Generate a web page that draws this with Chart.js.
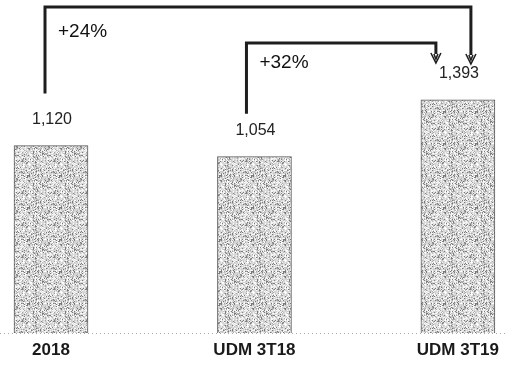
<!DOCTYPE html>
<html lang="es">
<head>
    <meta charset="UTF-8">
    <title>UDM 3T19</title>
    <style>
        html, body { margin: 0; padding: 0; background: #fff; }
        .wrap { width: 506px; height: 366px; position: relative; }
    </style>
    <script src="https://cdn.jsdelivr.net/npm/chart.js"></script>
</head>
<body>
    <div class="wrap"><canvas id="chart" width="506" height="366"></canvas></div>

    <script>
        // data
        const categories = ['2018', 'UDM 3T18', 'UDM 3T19'];
        const values = [1120, 1054, 1393];
        const valueLabels = ['1,120', '1,054', '1,393'];
        const growthLabels = ['+24%', '+32%'];

        // grainy grey fill like the scanned bars
        function makeTexture() {
            const c = document.createElement('canvas');
            c.width = 32; c.height = 32;
            const g = c.getContext('2d');
            g.fillStyle = '#d6d6d6';
            g.fillRect(0, 0, 32, 32);
            const shades = ['#f4f4f4', '#a8a8a8', '#7a7a7a', '#c2c2c2', '#ffffff', '#eaeaea'];
            for (let y = 0; y < 32; y++) {
                for (let x = 0; x < 32; x++) {
                    const h = ((x * 374761393 + y * 668265263) ^ (x * y * 1274126177)) >>> 0;
                    const k = (h >>> 7) % 10;
                    if (k < shades.length) {
                        g.fillStyle = shades[k];
                        g.fillRect(x, y, 1, 1);
                    }
                }
            }
            return g.createPattern(c, 'repeat');
        }

        const annotations = {
            id: 'annotations',
            afterDatasetsDraw(chart) {
                const ctx = chart.ctx;
                const bars = chart.getDatasetMeta(0).data;
                const y0 = chart.scales.y.getPixelForValue(0);

                ctx.save();
                // dotted baseline across the page
                ctx.strokeStyle = '#a8a8a8';
                ctx.lineWidth = 1;
                ctx.setLineDash([1, 3]);
                ctx.beginPath();
                ctx.moveTo(0, y0 + 0.5);
                ctx.lineTo(chart.width, y0 + 0.5);
                ctx.stroke();
                ctx.setLineDash([]);

                // value labels
                ctx.fillStyle = '#222';
                ctx.font = '16px "Liberation Sans", Arial, sans-serif';
                ctx.textAlign = 'center';
                ctx.textBaseline = 'middle';
                bars.forEach((b, i) => ctx.fillText(valueLabels[i], b.x + 1, b.y - 26));

                // bracket arrows
                const b1 = bars[0], b2 = bars[1], b3 = bars[2];
                function bracket(x1, yStart, yTop, x2, yTip) {
                    ctx.strokeStyle = '#1e1e1e';
                    ctx.lineWidth = 3;
                    ctx.lineJoin = 'miter';
                    ctx.beginPath();
                    ctx.moveTo(x1, yStart);
                    ctx.lineTo(x1, yTop);
                    ctx.lineTo(x2, yTop);
                    ctx.lineTo(x2, yTip - 9);
                    ctx.stroke();
                    // open arrow head
                    ctx.lineWidth = 1.6;
                    ctx.beginPath();
                    ctx.moveTo(x2 - 5, yTip - 10);
                    ctx.lineTo(x2, yTip);
                    ctx.lineTo(x2 + 5, yTip - 10);
                    ctx.stroke();
                    ctx.beginPath();
                    ctx.moveTo(x2 - 2, yTip - 9);
                    ctx.lineTo(x2, yTip - 4);
                    ctx.lineTo(x2 + 2, yTip - 9);
                    ctx.stroke();
                }
                bracket(b1.x - 6, b1.y - 52, 7, b3.x + 13, 64);
                bracket(b2.x - 8, b2.y - 43, 43, b3.x - 22, 63);

                // growth labels
                ctx.fillStyle = '#111';
                ctx.font = '19px "Liberation Sans", Arial, sans-serif';
                ctx.textAlign = 'left';
                ctx.fillText(growthLabels[0], b1.x + 7, 32);
                ctx.fillText(growthLabels[1], b2.x + 5, 63);
                ctx.restore();
            }
        };

        const ctx = document.getElementById('chart').getContext('2d');
        new Chart(ctx, {
            type: 'bar',
            data: {
                labels: categories,
                datasets: [{
                    data: values,
                    backgroundColor: makeTexture(),
                    borderColor: '#5a5a5a',
                    borderWidth: 1,
                    barThickness: 74,
                    clip: false
                }]
            },
            options: {
                responsive: false,
                animation: false,
                layout: { padding: { left: 51, right: 46, top: 0, bottom: 0 } },
                plugins: { legend: { display: false }, tooltip: { enabled: false } },
                scales: {
                    x: {
                        offset: false,
                        grid: { display: false, drawTicks: false },
                        border: { display: false },
                        afterFit: (s) => { s.height = 33; },
                        ticks: {
                            color: '#1a1a1a',
                            padding: 7,
                            maxRotation: 0,
                            autoSkip: false,
                            font: { family: '"Liberation Sans", Arial, sans-serif', size: 17, weight: 'bold' }
                        }
                    },
                    y: {
                        display: false,
                        min: 0,
                        max: 1990
                    }
                }
            },
            plugins: [annotations]
        });
    </script>
</body>
</html>
